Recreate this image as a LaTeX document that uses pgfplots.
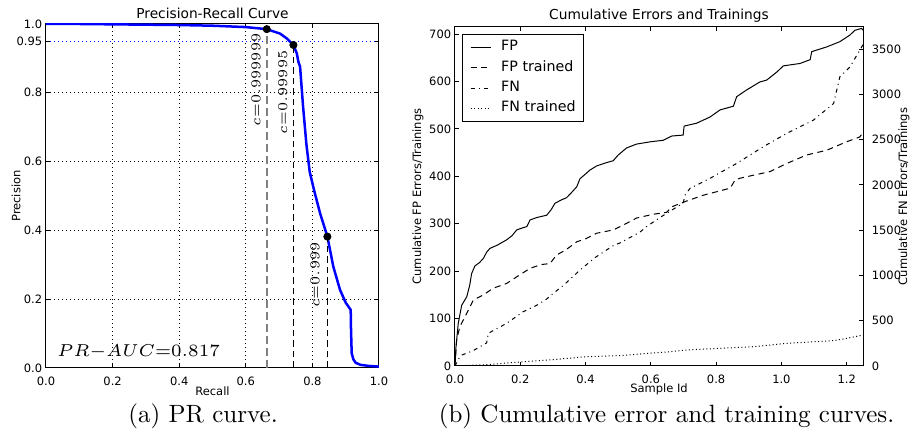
\RequirePackage{fix-cm}
\documentclass[border=0pt]{standalone}
\usepackage{fontspec}
\newfontfamily\dejavu{DejaVu Sans}
\usepackage{pgfplots}
\pgfplotsset{compat=1.18}

\newcommand\tickfont{\dejavu\fontsize{4.6}{5.5}\selectfont}
\newcommand\titfont{\dejavu\fontsize{5.5}{6.6}\selectfont}

\pgfplotsset{
  mpl/.style={
    scale only axis,
    tick align=inside,
    major tick length=1.6pt,
    tick style={black, line width=0.4pt},
    tick label style={font=\tickfont},
    axis line style={line width=0.4pt},
  },
}

\begin{document}
\begin{tikzpicture}

% (a) precision-recall
\begin{axis}[mpl, at={(0pt,0pt)}, anchor=south west,
  width=133.2pt, height=137.6pt,
  xmin=0, xmax=1, ymin=0, ymax=1,
  xtick={0,0.2,0.4,0.6,0.8,1}, xticklabels={0.0,0.2,0.4,0.6,0.8,1.0},
  ytick={0,0.2,0.4,0.6,0.8,1}, yticklabels={0.0,0.2,0.4,0.6,0.8,1.0},
  extra y ticks={0.95}, extra y tick labels={0.95},
  extra y tick style={grid style={blue, line width=0.4pt, dash pattern=on 0.4pt off 1.2pt}},
  yticklabel style={xshift=2pt},
  xmajorgrids, ymajorgrids,
  grid style={black, line width=0.4pt, dash pattern=on 0.4pt off 1.2pt},
  xtick pos=both, ytick pos=both,
  xlabel={Recall}, ylabel={Precision},
  every axis x label/.style={at={(rel axis cs:0.5,0)}, yshift=-9.2pt, anchor=center, font=\tickfont},
  every axis y label/.style={at={(rel axis cs:0,0.5)}, xshift=-12pt, rotate=90, anchor=center, font=\tickfont},
  title={Precision-Recall Curve},
  every axis title/.style={at={(rel axis cs:0.5,1)}, anchor=base, yshift=2pt, font=\titfont},
]
\addplot[blue, line width=1pt] coordinates {
  (0,1.0) (0.1,1.0) (0.2,0.999) (0.3,0.998) (0.4,0.997) (0.5,0.995)
  (0.6,0.991) (0.663,0.985) (0.703,0.972) (0.723,0.958) (0.743,0.939)
  (0.753,0.915) (0.758,0.89) (0.763,0.876) (0.772,0.76) (0.782,0.65)
  (0.792,0.57) (0.805,0.517) (0.823,0.45) (0.845,0.382) (0.863,0.294)
  (0.883,0.227) (0.90,0.19) (0.915,0.169) (0.916,0.11) (0.918,0.043)
  (0.923,0.025) (0.93,0.015) (0.945,0.009) (0.97,0.006) (1.0,0.004)
};
\addplot[gray, line width=0.6pt, dash pattern=on 3.2pt off 1.6pt] coordinates {(0.663,0) (0.663,0.985)};
\addplot[black, line width=0.4pt, dash pattern=on 2.6pt off 1.6pt] coordinates {(0.743,0) (0.743,0.939)};
\addplot[black, line width=0.4pt, dash pattern=on 2.6pt off 1.6pt] coordinates {(0.845,0) (0.845,0.382)};
\addplot[only marks, mark=*, mark size=1.4pt, black] coordinates {(0.663,0.985) (0.743,0.939) (0.845,0.382)};
\node[rotate=90, font=\fontsize{5.4}{6.4}\selectfont] at (axis cs:0.631,0.837) {$c{=}0.999999$};
\node[rotate=90, font=\fontsize{5.4}{6.4}\selectfont] at (axis cs:0.711,0.801) {$c{=}0.99995$};
\node[rotate=90, font=\fontsize{5.4}{6.4}\selectfont] at (axis cs:0.808,0.270) {$c{=}0.999$};
\node[anchor=base west, inner sep=0pt, font=\fontsize{6.9}{8}\selectfont] at (axis cs:0.033,0.032) {$PR{-}AUC{=}0.817$};
\end{axis}

% (b) cumulative errors, FP side
\begin{axis}[mpl, at={(163.6pt,0.8pt)}, anchor=south west,
  width=163.2pt, height=135.6pt,
  xmin=0, xmax=1.25, ymin=0, ymax=715,
  xtick={0,0.2,0.4,0.6,0.8,1.0,1.2}, xticklabels={0.0,0.2,0.4,0.6,0.8,1.0,1.2},
  ytick={0,100,200,300,400,500,600,700}, yticklabels={0,100,200,300,400,500,600,700},
  yticklabel style={xshift=2pt},
  xtick pos=both, ytick pos=left,
  xlabel={Sample Id}, ylabel={Cumulative FP Errors/Trainings},
  every axis x label/.style={at={(rel axis cs:0.5,0)}, yshift=-9.2pt, anchor=center, font=\tickfont},
  every axis y label/.style={at={(rel axis cs:0,0.5)}, xshift=-14.8pt, rotate=90, anchor=center, font=\tickfont},
  title={Cumulative Errors and Trainings},
  every axis title/.style={at={(rel axis cs:0.5,1)}, anchor=base, yshift=2.8pt, font=\titfont},
]
\addplot[black, line width=0.4pt] coordinates {
  (0,0) (0.003,40) (0.01,90) (0.0205,128) (0.036,146) (0.045,170) (0.051,195)
  (0.061,211) (0.075,218) (0.087,227) (0.097,240) (0.107,248) (0.13,255)
  (0.158,266) (0.175,275) (0.189,287) (0.21,292) (0.22,294) (0.23,308)
  (0.25,313) (0.281,318) (0.295,330) (0.306,343) (0.325,350) (0.342,355)
  (0.36,368) (0.373,378) (0.383,395) (0.40,405) (0.413,413) (0.434,422)
  (0.46,428) (0.485,433) (0.50,445) (0.526,460) (0.556,468) (0.6,473)
  (0.638,476) (0.664,485) (0.699,487) (0.702,506) (0.74,512) (0.781,525)
  (0.812,540) (0.853,548) (0.863,568) (0.893,582) (0.934,599) (0.955,603)
  (0.986,620) (1.006,633) (1.057,638) (1.088,646) (1.093,663) (1.139,673)
  (1.179,684) (1.21,698) (1.225,708) (1.246,712) (1.25,708)
};
\addplot[black, line width=0.4pt, dash pattern=on 2.4pt off 1.8pt] coordinates {
  (0,0) (0.005,55) (0.015,83) (0.036,111) (0.056,139) (0.087,150) (0.117,164)
  (0.158,174) (0.189,188) (0.23,206) (0.265,214) (0.291,216) (0.311,234)
  (0.34,245) (0.373,262) (0.40,268) (0.434,280) (0.485,287) (0.526,301)
  (0.556,312) (0.607,320) (0.648,324) (0.665,336) (0.71,348) (0.76,360)
  (0.843,375) (0.858,392) (0.873,396) (0.965,410) (1.016,427) (1.077,445)
  (1.139,455) (1.2,473) (1.24,483) (1.25,492)
};
\node[font=\tickfont] at (rel axis cs:1,0) [xshift=-4pt, yshift=-9.2pt] {1e7};
\end{axis}

% (b) FN side, twin axis on the right
\begin{axis}[mpl, at={(163.6pt,0.8pt)}, anchor=south west,
  width=163.2pt, height=135.6pt,
  xmin=0, xmax=1.25, ymin=0, ymax=3745,
  hide x axis, axis y line*=right,
  ytick={0,500,1000,1500,2000,2500,3000,3500},
  yticklabels={0,500,1000,1500,2000,2500,3000,3500},
  ylabel={Cumulative FN Errors/Trainings},
  every axis y label/.style={at={(rel axis cs:1,0.5)}, xshift=16.4pt, rotate=90, anchor=center, font=\tickfont},
  legend style={at={(0,1)}, anchor=north west, xshift=2.7pt, yshift=-2.8pt,
    font=\dejavu\fontsize{5.7}{6.8}\selectfont, draw=black, fill=white,
    inner xsep=3.2pt, inner ysep=2.3pt, row sep=2.4pt, column sep=4pt,
    nodes={inner sep=0pt}},
  legend cell align=left,
  legend image code/.code={\draw[#1] (0pt,0pt) -- (8pt,0pt);},
]
\addlegendimage{black, line width=0.4pt}
\addlegendentry{FP}
\addlegendimage{black, line width=0.4pt, dash pattern=on 2.4pt off 1.8pt}
\addlegendentry{FP trained}
\addplot[black, line width=0.4pt, dash pattern=on 1.6pt off 1.6pt on 0.4pt off 1.6pt] coordinates {
  (0,0) (0.015,103) (0.0205,120) (0.056,170) (0.097,255) (0.102,361)
  (0.158,471) (0.209,600) (0.25,670) (0.281,740) (0.301,802) (0.332,890)
  (0.383,1060) (0.43,1200) (0.485,1330) (0.506,1360) (0.567,1480)
  (0.587,1540) (0.628,1640) (0.689,1778) (0.699,1800) (0.705,1890)
  (0.72,1962) (0.781,2072) (0.863,2238) (0.944,2421) (1.016,2569)
  (1.098,2716) (1.16,2900) (1.179,3194) (1.21,3304) (1.231,3433)
  (1.246,3525) (1.25,3550)
};
\addlegendentry{FN}
\addplot[black, line width=0.4pt, dash pattern=on 0.4pt off 1.0pt] coordinates {
  (0,0) (0.03,5) (0.1,15) (0.2,45) (0.3,70) (0.404,103) (0.506,115)
  (0.659,158) (0.71,177) (0.914,213) (1.016,250) (1.16,280) (1.2,305)
  (1.25,342)
};
\addlegendentry{FN trained}
\end{axis}

\node[anchor=base, font=\fontsize{10}{12}\selectfont] at (62.8pt,-22pt) {(a) PR curve.};
\node[anchor=base, font=\fontsize{10}{12}\selectfont] at (248.2pt,-22pt) {(b) Cumulative error and training curves.};

\pgfresetboundingbox
\path (-18.4pt,-25.6pt) rectangle (346.8pt,147.2pt);
\end{tikzpicture}
\end{document}
